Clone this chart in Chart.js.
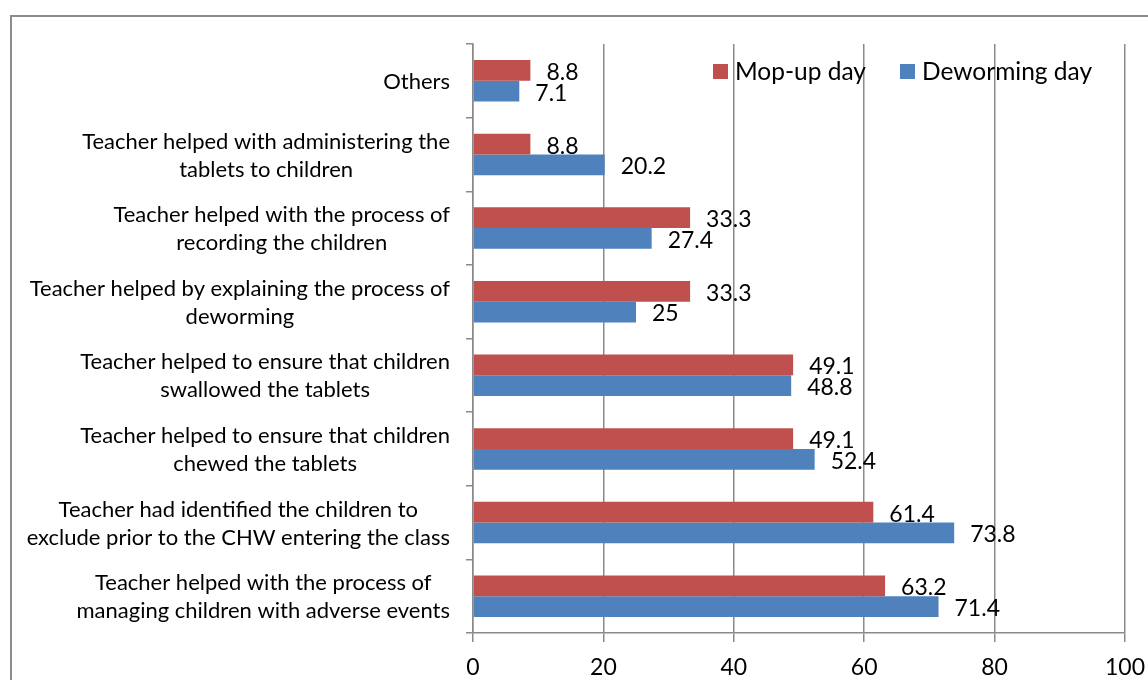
<!DOCTYPE html>
<html>
<head>
<meta charset="utf-8">
<script src="https://cdn.jsdelivr.net/npm/chart.js@4"></script>
<style>
  html, body { margin: 0; padding: 0; background: #ffffff; }
  #frame { position: absolute; left: 10px; top: 15px; width: 1300px; height: 800px; border: 2px solid #8c8c8c; box-sizing: border-box; }
  #wrap { position: absolute; left: 0; top: 0; width: 1148px; height: 680px; }
</style>
</head>
<body>
<div id="frame"></div>
<div id="wrap"><canvas id="c" width="1148" height="680"></canvas></div>
<script>
const categories = [
  ["Others"],
  ["Teacher helped with administering the", "tablets to children"],
  ["Teacher helped with the process of", "recording the children"],
  ["Teacher helped by explaining the process of", "deworming"],
  ["Teacher helped to ensure that children", "swallowed the tablets"],
  ["Teacher helped to ensure that children", "chewed the tablets"],
  ["Teacher had identified the children to", "exclude prior to the CHW entering the class"],
  ["Teacher helped with the process of", "managing children with adverse events"]
];
const mopUpDay = [8.8, 8.8, 33.3, 33.3, 49.1, 49.1, 61.4, 63.2];
const dewormingDay = [7.1, 20.2, 27.4, 25, 48.8, 52.4, 73.8, 71.4];
const seriesNames = ["Mop-up day", "Deworming day"];
const xTicks = [0, 20, 40, 60, 80, 100];

const FONT = "Lato, 'Open Sans', sans-serif";
const RED = "#C0504D";
const BLUE = "#4F81BD";
const GRID = "#8a8a8a";

const catLabelPlugin = {
  id: "catLabels",
  afterDraw(chart) {
    const ys = chart.scales.y;
    const ctx = chart.ctx;
    ctx.save();
    ctx.font = "22px " + FONT;
    ctx.fillStyle = "#000";
    ctx.textAlign = "center";
    ctx.textBaseline = "middle";
    const right = chart.chartArea.left - 23;
    const lh = 28;
    categories.forEach((lines, i) => {
      const yc = ys.getPixelForValue(i);
      const w = Math.max(...lines.map(l => ctx.measureText(l).width));
      const cx = right - w / 2;
      lines.forEach((l, k) => {
        ctx.fillText(l, cx, yc + (k - (lines.length - 1) / 2) * lh + 1);
      });
    });
    ctx.restore();
  }
};

const valueLabelPlugin = {
  id: "valueLabels",
  afterDatasetsDraw(chart) {
    const ctx = chart.ctx;
    ctx.save();
    ctx.font = "23px " + FONT;
    ctx.fillStyle = "#000";
    ctx.textAlign = "left";
    ctx.textBaseline = "middle";
    chart.data.datasets.forEach((ds, di) => {
      const meta = chart.getDatasetMeta(di);
      meta.data.forEach((bar, i) => {
        ctx.fillText(String(ds.data[i]), bar.x + 16, bar.y + 2);
      });
    });
    ctx.restore();
  }
};

const legendPlugin = {
  id: "innerLegend",
  afterDraw(chart) {
    const ctx = chart.ctx;
    ctx.save();
    ctx.font = "24.5px " + FONT;
    ctx.textAlign = "left";
    ctx.textBaseline = "middle";
    let x = 713;
    const y = 71;
    chart.data.datasets.forEach((ds) => {
      ctx.fillStyle = ds.backgroundColor;
      ctx.fillRect(x, y - 7, 15, 15);
      ctx.fillStyle = "#000";
      ctx.fillText(ds.label, x + 22, y + 1);
      x += 22 + ctx.measureText(ds.label).width + 34;
    });
    ctx.restore();
  }
};

new Chart(document.getElementById("c"), {
  type: "bar",
  data: {
    labels: categories,
    datasets: [
      { label: seriesNames[0], data: mopUpDay, backgroundColor: RED, categoryPercentage: 0.562, barPercentage: 1.0 },
      { label: seriesNames[1], data: dewormingDay, backgroundColor: BLUE, categoryPercentage: 0.562, barPercentage: 1.0 }
    ]
  },
  options: {
    indexAxis: "y",
    responsive: false,
    animation: false,
    events: [],
    layout: { padding: { top: 44, right: 23, bottom: 0, left: 0 } },
    plugins: { legend: { display: false }, tooltip: { enabled: false } },
    scales: {
      x: {
        type: "linear",
        min: 0, max: 100,
        afterBuildTicks(scale) { scale.ticks = xTicks.map(v => ({ value: v })); },
        ticks: { font: { family: FONT, size: 23 }, color: "#000", padding: 12 },
        grid: { color: GRID, lineWidth: 1.5, tickLength: 9, drawTicks: true },
        border: { color: GRID, width: 1.5 },
        afterFit(scale) { scale.height = 47; scale.paddingLeft = 0; scale.paddingRight = 0; }
      },
      y: {
        type: "category",
        ticks: { display: false },
        grid: { drawOnChartArea: false, drawTicks: true, tickLength: 7, color: GRID, lineWidth: 1.5, offset: true },
        border: { color: GRID, width: 1.5 },
        afterFit(scale) { scale.width = 473; scale.paddingTop = 0; scale.paddingBottom = 0; }
      }
    }
  },
  plugins: [catLabelPlugin, valueLabelPlugin, legendPlugin]
});
</script>
</body>
</html>
